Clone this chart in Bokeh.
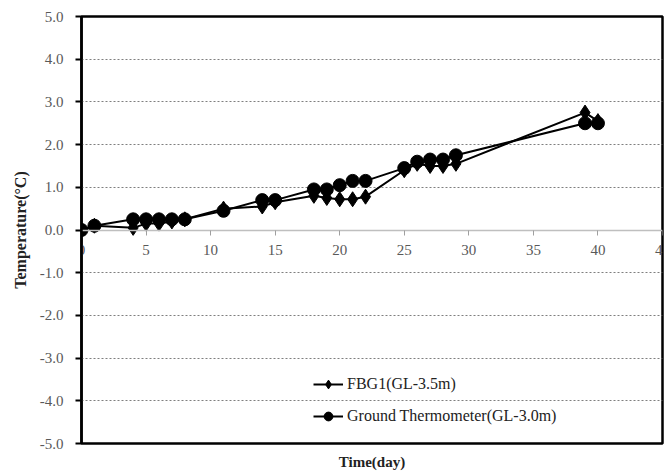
from bokeh.plotting import figure
from bokeh.models import Range1d, FixedTicker, NumeralTickFormatter, LinearAxis, Legend, LegendItem
from bokeh.embed import file_html
from bokeh.resources import INLINE

days = [0, 1, 4, 5, 6, 7, 8, 11, 14, 15, 18, 19, 20, 21, 22, 25, 26, 27, 28, 29, 39, 40]
fbg1 = [0.0, 0.1, 0.05, 0.15, 0.15, 0.2, 0.25, 0.5, 0.55, 0.65, 0.8, 0.75, 0.72, 0.72, 0.78,
        1.4, 1.55, 1.5, 1.5, 1.55, 2.75, 2.55]
ground = [0.0, 0.1, 0.25, 0.25, 0.25, 0.25, 0.25, 0.45, 0.7, 0.7, 0.95, 0.95, 1.05, 1.15, 1.15,
          1.45, 1.6, 1.65, 1.65, 1.75, 2.5, 2.5]
x_ticks = [0, 5, 10, 15, 20, 25, 30, 35, 40, 45]
y_ticks = [-5, -4, -3, -2, -1, 0, 1, 2, 3, 4, 5]
series_names = ["FBG1(GL-3.5m)", "Ground Thermometer(GL-3.0m)"]
x_title = "Time(day)"
y_title = "Temperature(\u00b0C)"

FONT = "Liberation Serif"

p = figure(width=672, height=472, output_backend="svg", toolbar_location=None,
           x_range=Range1d(0, 45), y_range=Range1d(-5, 5),
           min_border_left=81, min_border_right=10, min_border_top=16, min_border_bottom=28)
p.background_fill_color = "white"
p.border_fill_color = "white"
p.outline_line_color = "black"
p.outline_line_width = 2.5

# grid
p.xgrid.visible = False
p.ygrid.ticker = FixedTicker(ticks=[-4, -3, -2, -1, 1, 2, 3, 4])
p.ygrid.grid_line_color = "#7f7f7f"
p.ygrid.grid_line_dash = "2 2"
p.ygrid.grid_line_width = 1

# y axis
ya = p.yaxis[0]
ya.ticker = FixedTicker(ticks=y_ticks)
ya.formatter = NumeralTickFormatter(format="0.0")
ya.axis_line_color = "black"
ya.axis_line_width = 2.5
ya.major_tick_line_color = "black"
ya.major_tick_line_width = 2
ya.major_tick_out = 6
ya.major_tick_in = 0
ya.minor_tick_line_color = None
ya.major_label_text_font = FONT
ya.major_label_text_font_size = "15px"
ya.major_label_text_color = "#595959"
ya.major_label_standoff = 12
ya.axis_label = y_title
ya.axis_label_text_font = FONT
ya.axis_label_text_font_style = "bold"
ya.axis_label_text_font_size = "16px"
ya.axis_label_text_color = "#222222"
ya.axis_label_standoff = 8

# x axis at y = 0
xa = p.xaxis[0]
xa.fixed_location = 0
xa.ticker = FixedTicker(ticks=x_ticks)
xa.axis_line_color = "#bfbfbf"
xa.axis_line_width = 1.5
xa.major_tick_line_color = "#9f9f9f"
xa.major_tick_out = 5
xa.major_tick_in = 0
xa.minor_tick_line_color = None
xa.major_label_text_font = FONT
xa.major_label_text_font_size = "15px"
xa.major_label_text_color = "#595959"
xa.major_label_standoff = 10

# x title on a bare axis at the bottom
xt = LinearAxis(ticker=FixedTicker(ticks=[]), axis_line_color=None,
                major_tick_line_color=None, minor_tick_line_color=None,
                major_label_text_font_size="0px", axis_label=x_title,
                axis_label_text_font=FONT, axis_label_text_font_style="bold",
                axis_label_text_font_size="15px", axis_label_text_color="#222222",
                axis_label_standoff=10)
p.add_layout(xt, "below")

l1 = p.line(days, fbg1, line_color="black", line_width=2)
m1 = p.scatter(days, fbg1, marker="diamond", size=15, fill_color="black", line_color="black")
l2 = p.line(days, ground, line_color="black", line_width=2)
m2 = p.scatter(days, ground, marker="circle", size=13, fill_color="black", line_color="black")

legend = Legend(items=[LegendItem(label=series_names[0], renderers=[l1, m1]),
                       LegendItem(label=series_names[1], renderers=[l2, m2])],
                location=(232, 16), border_line_color=None, background_fill_alpha=0,
                label_text_font=FONT, label_text_font_size="16px", label_text_color="#222222",
                glyph_width=30, glyph_height=22, label_height=22, spacing=10,
                padding=0, margin=0, label_standoff=4)
p.add_layout(legend)

open("out.html", "w").write(file_html(p, INLINE))
